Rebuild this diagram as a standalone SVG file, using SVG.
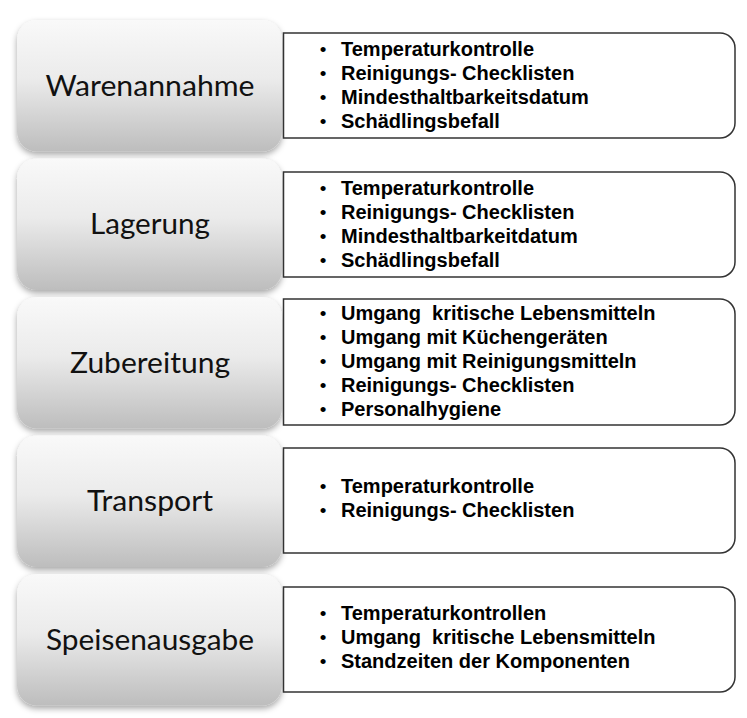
<svg xmlns="http://www.w3.org/2000/svg" width="747" height="718" viewBox="0 0 747 718">
<defs>
<linearGradient id="g" x1="0" y1="0" x2="0" y2="1">
<stop offset="0" stop-color="#f9f9f9"/>
<stop offset="0.45" stop-color="#ebebeb"/>
<stop offset="1" stop-color="#bdbdbd"/>
</linearGradient>
<filter id="sh" x="-10%" y="-10%" width="120%" height="130%">
<feDropShadow dx="0" dy="3" stdDeviation="3" flood-color="#000" flood-opacity="0.35"/>
</filter>
</defs>
<style>
.stage{fill:url(#g);filter:url(#sh)}
.lbl{font-family:Lato,"Open Sans",sans-serif;font-size:29px;fill:#111;text-anchor:middle}
.box{fill:#fff;stroke:#333;stroke-width:1.5}
.it{font-family:"Liberation Sans",Arial,sans-serif;font-size:20px;font-weight:bold;fill:#000}
.bu{font-family:"Liberation Sans",Arial,sans-serif;font-size:19px;fill:#000;text-anchor:middle}
</style>
<rect width="747" height="718" fill="#fff"/>
<g id="connectors"></g>
<g id="warenannahme">
<rect class="stage" x="17" y="20" width="265" height="131.5" rx="20"/>
<text class="lbl" x="150" y="95.8" textLength="209" lengthAdjust="spacingAndGlyphs">Warenannahme</text>
<path class="box" d="M283.5,33 H720 A15,15 0 0 1 735,48 V123 A15,15 0 0 1 720,138 H283.5 Z"/>
<g class="bu"><text x="323" y="56">•</text><text x="323" y="80">•</text><text x="323" y="104">•</text><text x="323" y="128">•</text></g>
<text class="it" x="341" y="56">Temperaturkontrolle</text>
<text class="it" x="341" y="80">Reinigungs- Checklisten</text>
<text class="it" x="341" y="104">Mindesthaltbarkeitsdatum</text>
<text class="it" x="341" y="128">Schädlingsbefall</text>
</g>
<g id="lagerung">
<rect class="stage" x="17" y="158.5" width="265" height="131.5" rx="20"/>
<text class="lbl" x="150" y="234.3" textLength="120" lengthAdjust="spacingAndGlyphs">Lagerung</text>
<path class="box" d="M283.5,172 H720 A15,15 0 0 1 735,187 V262 A15,15 0 0 1 720,277 H283.5 Z"/>
<g class="bu"><text x="323" y="195">•</text><text x="323" y="219">•</text><text x="323" y="243">•</text><text x="323" y="267">•</text></g>
<text class="it" x="341" y="195">Temperaturkontrolle</text>
<text class="it" x="341" y="219">Reinigungs- Checklisten</text>
<text class="it" x="341" y="243">Mindesthaltbarkeitdatum</text>
<text class="it" x="341" y="267">Schädlingsbefall</text>
</g>
<g id="zubereitung">
<rect class="stage" x="17" y="297" width="265" height="131.5" rx="20"/>
<text class="lbl" x="150" y="372.8" textLength="160" lengthAdjust="spacingAndGlyphs">Zubereitung</text>
<path class="box" d="M283.5,299 H720 A15,15 0 0 1 735,314 V410 A15,15 0 0 1 720,425 H283.5 Z"/>
<g class="bu"><text x="323" y="320">•</text><text x="323" y="344">•</text><text x="323" y="368">•</text><text x="323" y="392">•</text><text x="323" y="416">•</text></g>
<text class="it" x="341" y="320" xml:space="preserve">Umgang  kritische Lebensmitteln</text>
<text class="it" x="341" y="344">Umgang mit Küchengeräten</text>
<text class="it" x="341" y="368">Umgang mit Reinigungsmitteln</text>
<text class="it" x="341" y="392">Reinigungs- Checklisten</text>
<text class="it" x="341" y="416">Personalhygiene</text>
</g>
<g id="transport">
<rect class="stage" x="17" y="435.5" width="265" height="131.5" rx="20"/>
<text class="lbl" x="150" y="511.3" textLength="126" lengthAdjust="spacingAndGlyphs">Transport</text>
<path class="box" d="M283.5,448 H720 A15,15 0 0 1 735,463 V538 A15,15 0 0 1 720,553 H283.5 Z"/>
<g class="bu"><text x="323" y="493">•</text><text x="323" y="517">•</text></g>
<text class="it" x="341" y="493">Temperaturkontrolle</text>
<text class="it" x="341" y="517">Reinigungs- Checklisten</text>
</g>
<g id="speisenausgabe">
<rect class="stage" x="17" y="574" width="265" height="131.5" rx="20"/>
<text class="lbl" x="150" y="649.8" textLength="208" lengthAdjust="spacingAndGlyphs">Speisenausgabe</text>
<path class="box" d="M283.5,587 H720 A15,15 0 0 1 735,602 V677 A15,15 0 0 1 720,692 H283.5 Z"/>
<g class="bu"><text x="323" y="620">•</text><text x="323" y="644">•</text><text x="323" y="668">•</text></g>
<text class="it" x="341" y="620">Temperaturkontrollen</text>
<text class="it" x="341" y="644" xml:space="preserve">Umgang  kritische Lebensmitteln</text>
<text class="it" x="341" y="668">Standzeiten der Komponenten</text>
</g>
</svg>
